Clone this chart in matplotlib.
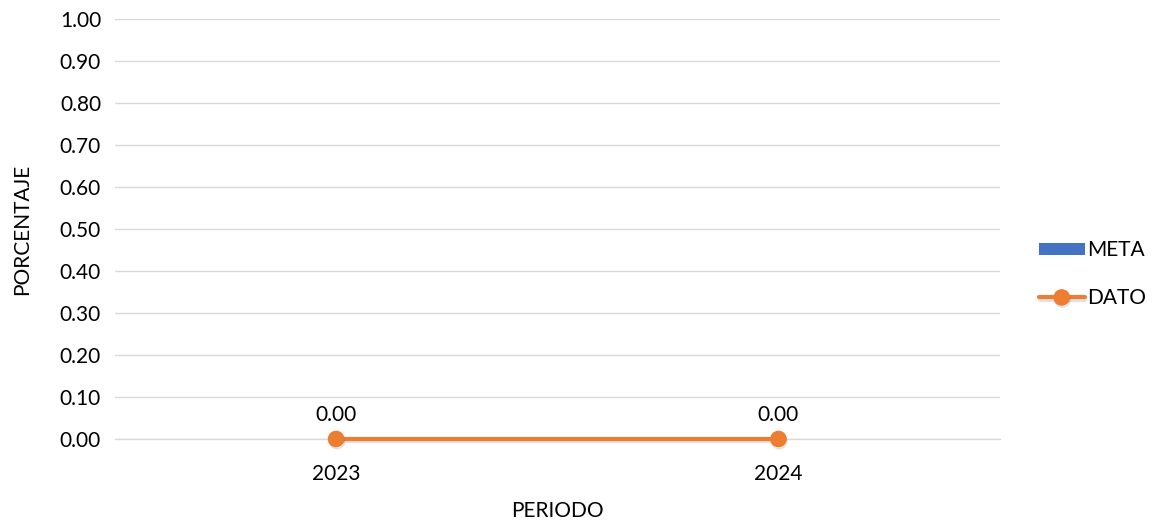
import matplotlib.pyplot as plt
import matplotlib.patheffects as pe
import numpy as np

periodos = ["2023", "2024"]
meta = [0.0, 0.0]
dato = [0.0, 0.0]
yticks = [0.0, 0.1, 0.2, 0.3, 0.4, 0.5, 0.6, 0.7, 0.8, 0.9, 1.0]

plt.rcParams['font.family'] = ['Lato', 'DejaVu Sans']
FS = 15

fig = plt.figure(figsize=(11.53, 5.23), dpi=100)
ax = fig.add_axes([0.0997, 0.1606, 0.7673, 0.8031])

x = np.arange(len(periodos))
ax.axhline(0, color='#d9d9d9', lw=1, zorder=0.5, clip_on=False)
bars = ax.bar(x, meta, width=0.4, color='#4472c4', label='META')
line, = ax.plot(x, dato, color='#ed7d31', lw=3, marker='o', ms=11, label='DATO',
                solid_capstyle='round', clip_on=False, zorder=3,
                path_effects=[pe.SimpleLineShadow(offset=(0.5, -1.5), alpha=0.12), pe.Normal()])

for xi, v in zip(x, dato):
    ax.annotate(f"{v:.2f}", (xi, v), xytext=(0, 10), textcoords='offset points',
                ha='center', va='bottom', fontsize=FS, color='#000000')

ax.set_xlim(-0.5, len(periodos) - 0.5)
ax.set_ylim(0, 1.0)
ax.set_yticks(yticks)
ax.set_yticklabels([f"{t:.2f}" for t in yticks], fontsize=FS)
ax.set_xticks(x)
ax.set_xticklabels(periodos, fontsize=FS)
ax.tick_params(length=0, pad=10)
ax.tick_params(axis='x', pad=18)
ax.grid(axis='y', color='#d9d9d9', lw=1)
ax.set_axisbelow(True)
for s in ax.spines.values():
    s.set_visible(False)

ax.set_ylabel("PORCENTAJE", fontsize=FS, labelpad=20)
ax.set_xlabel("PERIODO", fontsize=FS, labelpad=12)

leg = fig.legend([bars, line], ['META', 'DATO'], loc='center left',
                 bbox_to_anchor=(0.901, 0.476), bbox_transform=fig.transFigure,
                 frameon=False, fontsize=FS, handlelength=2.2, handleheight=0.5,
                 handletextpad=0.1, labelspacing=1.35, borderaxespad=0,
                 borderpad=0)

fig.savefig("out.png", dpi=100)
